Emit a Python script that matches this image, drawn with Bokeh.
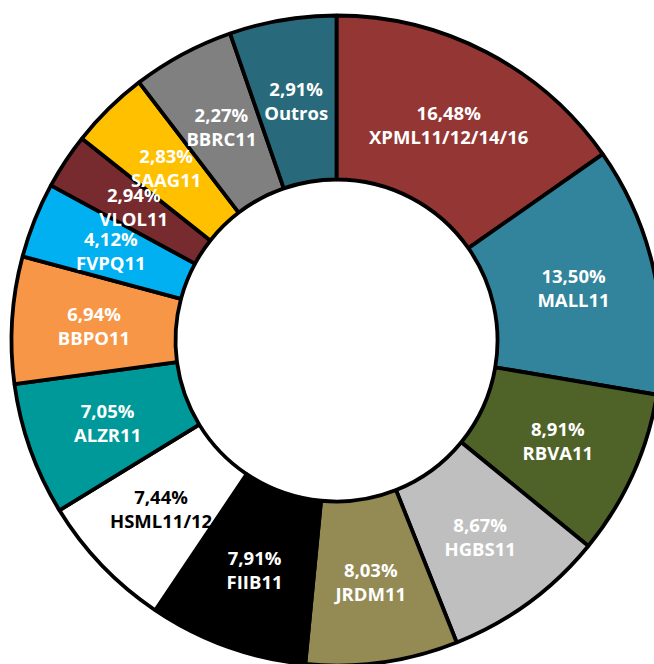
import numpy as np
from bokeh.plotting import figure
from bokeh.models import Range1d, ColumnDataSource
from bokeh.core.properties import value
from bokeh.embed import file_html
from bokeh.resources import INLINE

# ---- data ----
names = ["XPML11/12/14/16", "MALL11", "RBVA11", "HGBS11", "JRDM11", "FIIB11",
         "HSML11/12", "ALZR11", "BBPO11", "FVPQ11", "VLOL11", "SAAG11",
         "BBRC11", "Outros"]
pct_labels = ["16,48%", "13,50%", "8,91%", "8,67%", "8,03%", "7,91%", "7,44%",
              "7,05%", "6,94%", "4,12%", "2,94%", "2,83%", "2,27%", "2,91%"]
# slice sizes as drawn in the picture (share of the full ring, %)
slice_share = [15.28, 12.39, 8.22, 8.08, 7.56, 7.89, 6.83, 6.61, 6.31, 3.75,
               2.75, 3.94, 5.08, 5.31]
colors = ["#943634", "#31849B", "#4F6228", "#BFBFBF", "#948A54", "#000000",
          "#FFFFFF", "#009999", "#F79646", "#00B0F0", "#772B2F", "#FFC000",
          "#808080", "#286A7B"]
text_colors = ["white", "white", "white", "white", "white", "white", "black",
               "white", "white", "white", "white", "white", "white", "white"]

# ---- layout ----
W, H = 654, 664
cx, cy = 336, H - 340
r_out, r_in = 325, 161
line_gap = 12

share = np.array(slice_share, dtype=float)
frac = share / share.sum()
cum_after = np.cumsum(frac)
cum_before = cum_after - frac
start = np.pi / 2 - 2 * np.pi * cum_after
end = np.pi / 2 - 2 * np.pi * cum_before
mid = (start + end) / 2
r_lab = (r_in + r_out) / 2
lx = cx + r_lab * np.cos(mid)
ly = cy + r_lab * np.sin(mid)

src = ColumnDataSource(dict(
    start=start, end=end, color=colors, name=names, pct=pct_labels,
    tcol=text_colors, lx=lx, ly_top=ly + line_gap, ly_bot=ly - line_gap,
))

p = figure(width=W, height=H, x_range=Range1d(0, W), y_range=Range1d(0, H),
           x_axis_type=None, y_axis_type=None, toolbar_location=None,
           output_backend="svg", min_border=0)
p.grid.visible = False
p.outline_line_color = None
p.background_fill_color = "white"
p.border_fill_color = "white"

p.annular_wedge(x=cx, y=cy, inner_radius=r_in, outer_radius=r_out,
                start_angle="start", end_angle="end", fill_color="color",
                line_color="black", line_width=3.8, source=src)

common = dict(text_align="center", text_baseline="middle",
              text_font=value("Open Sans"), text_font_style="bold",
              text_font_size="18.5px", text_color="tcol", source=src)
p.text(x="lx", y="ly_top", text="pct", **common)
p.text(x="lx", y="ly_bot", text="name", **common)

open("out.html", "w").write(file_html(p, INLINE))
